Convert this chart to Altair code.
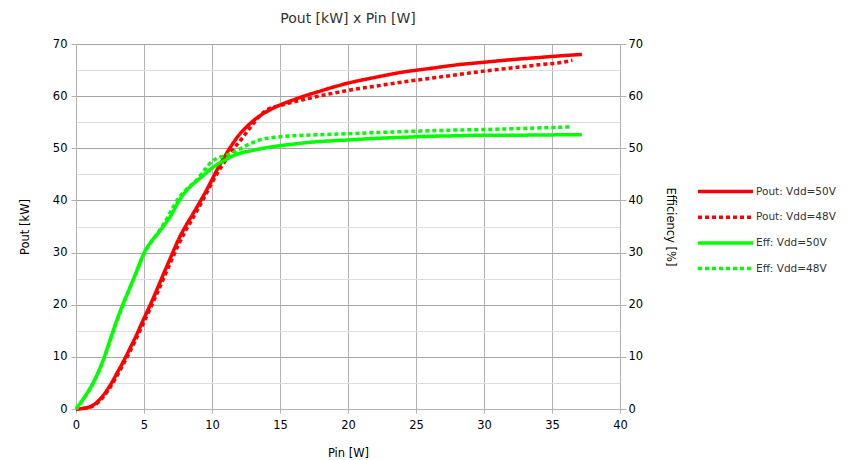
import altair as alt
import pandas as pd

# ---- data ----
pin_p50 = [0, 0.5, 1, 1.5, 2, 2.5, 3, 3.5, 4, 4.5, 5, 5.5, 6, 6.5, 7, 7.5, 8, 8.5, 9, 9.5, 10,
           10.5, 11, 11.5, 12, 12.5, 13, 13.5, 14, 15, 16, 17, 18, 19, 20, 22, 24, 26, 28, 30,
           32, 34, 36, 37.2]
pout_50 = [0, 0.1, 0.4, 1.2, 2.6, 4.5, 6.8, 9.2, 11.8, 14.5, 17.4, 20.2, 23.2, 26.3, 29.3, 32.3,
           34.8, 37.0, 39.2, 41.5, 44.0, 46.5, 48.7, 50.8, 52.6, 54.0, 55.2, 56.2, 57.0, 58.3,
           59.3, 60.2, 61.0, 61.8, 62.5, 63.6, 64.6, 65.3, 66.0, 66.5, 67.0, 67.4, 67.8, 68.0]

pin_p48 = [0, 0.5, 1, 1.5, 2, 2.5, 3, 3.5, 4, 4.5, 5, 5.5, 6, 6.5, 7, 7.5, 8, 8.5, 9, 9.5, 10,
           10.5, 11, 11.5, 12, 12.5, 13, 13.5, 14, 15, 16, 17, 18, 19, 20, 22, 24, 26, 28, 30,
           32, 34, 36, 36.5]
pout_48 = [0, 0.1, 0.3, 1.0, 2.3, 4.1, 6.3, 8.7, 11.2, 13.9, 16.7, 19.5, 22.4, 25.4, 28.4, 31.3,
           33.9, 36.2, 38.5, 40.9, 43.4, 45.7, 47.7, 49.6, 51.2, 52.9, 54.6, 56.2, 57.3, 58.2,
           58.9, 59.5, 60.1, 60.6, 61.1, 61.9, 62.7, 63.4, 64.1, 64.8, 65.4, 66.0, 66.6, 66.9]

pin_e50 = [0, 0.5, 1, 1.5, 2, 2.5, 3, 3.5, 4, 4.5, 5, 5.5, 6, 6.5, 7, 7.5, 8, 8.5, 9, 9.5, 10,
           10.5, 11, 11.5, 12, 13, 14, 15, 16, 17, 18, 20, 22, 24, 26, 28, 30, 32, 34, 37.2]
eff_50 = [0, 1.8, 3.8, 6.3, 9.4, 13.2, 17.0, 20.4, 23.5, 26.7, 29.9, 32.0, 33.6, 35.3, 37.2, 39.6,
          41.5, 42.9, 44.0, 45.1, 46.2, 47.1, 47.8, 48.5, 49.0, 49.6, 50.1, 50.5, 50.8, 51.1,
          51.3, 51.6, 51.9, 52.1, 52.3, 52.4, 52.5, 52.5, 52.55, 52.6]

pin_e48 = [0, 0.5, 1, 1.5, 2, 2.5, 3, 3.5, 4, 4.5, 5, 5.5, 6, 6.5, 7, 7.5, 8, 8.5, 9, 9.5, 10,
           10.5, 11, 11.5, 12, 12.5, 13, 13.5, 14, 15, 16, 18, 20, 22, 24, 26, 28, 30, 32, 34, 36.3]
eff_48 = [0, 1.7, 3.7, 6.2, 9.2, 13.0, 16.8, 20.2, 23.4, 26.6, 29.7, 31.9, 33.7, 35.7, 38.0, 40.3,
          41.8, 43.0, 44.3, 46.0, 47.5, 48.2, 48.6, 49.1, 49.8, 50.5, 51.1, 51.6, 51.9, 52.2,
          52.4, 52.6, 52.8, 53.0, 53.2, 53.35, 53.5, 53.6, 53.75, 53.9, 54.1]

series_names = ["Pout: Vdd=50V", "Pout: Vdd=48V", "Eff: Vdd=50V", "Eff: Vdd=48V"]
series_colors = ["#ff0000", "#ff0000", "#00ff00", "#00ff00"]
series_dash = [[1, 0], [4, 3], [1, 0], [4, 3]]

x_ticks = [0, 5, 10, 15, 20, 25, 30, 35, 40]
y_ticks = [0, 5, 10, 15, 20, 25, 30, 35, 40, 45, 50, 55, 60, 65, 70]

pout_df = pd.concat([
    pd.DataFrame({"pin": pin_p50, "val": pout_50, "series": series_names[0], "order": range(len(pin_p50))}),
    pd.DataFrame({"pin": pin_p48, "val": pout_48, "series": series_names[1], "order": range(len(pin_p48))}),
])
eff_df = pd.concat([
    pd.DataFrame({"pin": pin_e50, "val": eff_50, "series": series_names[2], "order": range(len(pin_e50))}),
    pd.DataFrame({"pin": pin_e48, "val": eff_48, "series": series_names[3], "order": range(len(pin_e48))}),
])

FONT = "DejaVu Sans"

color_enc = alt.Color("series:N",
                      scale=alt.Scale(domain=series_names, range=series_colors),
                      legend=alt.Legend(title=None))
dash_enc = alt.StrokeDash("series:N",
                          scale=alt.Scale(domain=series_names, range=series_dash),
                          legend=alt.Legend(title=None))

x_enc = alt.X("pin:Q", scale=alt.Scale(domain=[0, 40], nice=False),
              axis=alt.Axis(values=x_ticks, title="Pin [W]", grid=True, gridColor="#b3b3b3",
                            domainColor="#b3b3b3", tickColor="#b3b3b3", tickSize=4,
                            labelFlush=False, labelPadding=6, titlePadding=17))

grid_cond = {"condition": {"test": "datum.value % 10 === 0", "value": "#a6a6a6"}, "value": "#dddddd"}
tick_op = {"condition": {"test": "datum.value % 10 === 0", "value": 1}, "value": 0}
label_expr = "datum.value % 10 === 0 ? datum.label : ''"

pout = alt.Chart(pout_df).mark_line(strokeWidth=3.5, interpolate="monotone").encode(
    x=x_enc,
    y=alt.Y("val:Q", scale=alt.Scale(domain=[0, 70], nice=False),
            axis=alt.Axis(values=y_ticks, title="Pout [kW]", orient="left", grid=True,
                          gridColor=grid_cond, tickOpacity=tick_op, labelExpr=label_expr,
                          labelFlush=False,
                          domainColor="#b3b3b3", tickColor="#b3b3b3", tickSize=5,
                          labelPadding=4, titlePadding=22)),
    color=color_enc, strokeDash=dash_enc, order="order:Q",
)

eff = alt.Chart(eff_df).mark_line(strokeWidth=3.5, interpolate="monotone").encode(
    x=x_enc,
    y=alt.Y("val:Q", scale=alt.Scale(domain=[0, 70], nice=False),
            axis=alt.Axis(values=y_ticks, title="Efficiency [%]", orient="right", grid=False,
                          tickOpacity=tick_op, labelExpr=label_expr, labelFlush=False,
                          domainColor="#b3b3b3", tickColor="#b3b3b3", tickSize=6,
                          labelPadding=2, titlePadding=22)),
    color=color_enc, strokeDash=dash_enc, order="order:Q",
)

chart = alt.layer(pout, eff).resolve_scale(y="independent").properties(
    width=544, height=365,
    title=alt.TitleParams("Pout [kW] x Pin [W]", font=FONT, fontSize=14, fontWeight="normal",
                          color="#333333", anchor="middle", offset=12),
    autosize=alt.AutoSizeParams(type="none"),
    padding={"left": 68, "top": 36, "right": 219, "bottom": 50},
).configure_view(strokeWidth=0).configure_axis(
    labelFont=FONT, labelFontSize=11.5, labelColor="#000000",
    titleFont=FONT, titleFontSize=11.5, titleFontWeight="normal", titleColor="#000000",
).configure_legend(
    orient="none", legendX=643, legendY=141,
    symbolType="M-6,0H6", symbolSize=84, symbolStrokeWidth=3.5,
    labelFont=FONT, labelFontSize=10.5, labelColor="#333333", labelOffset=24,
    rowPadding=10.7,
)

chart.save("out.html", embed_options={"renderer": "svg", "actions": False})
